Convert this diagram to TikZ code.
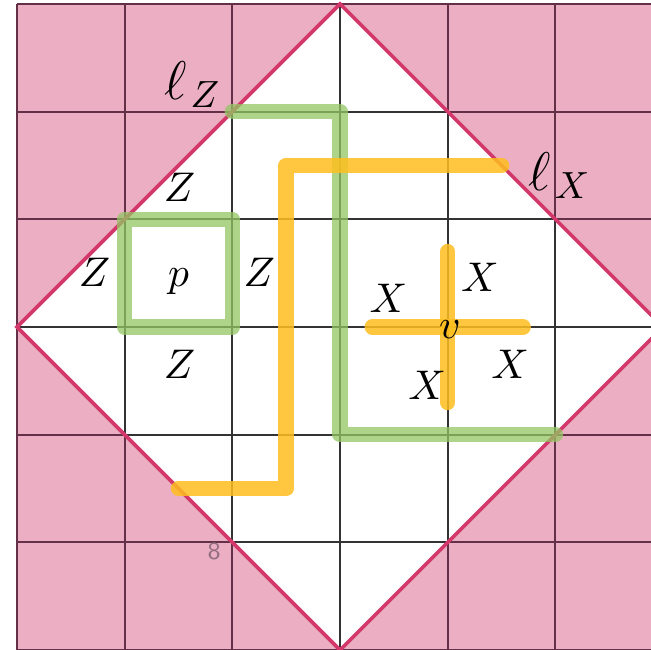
\documentclass[tikz,border=0pt]{standalone}
\usepackage{tikz}
\definecolor{outside}{RGB}{235,174,195}
\definecolor{rim}{RGB}{210,56,106}
\definecolor{gridplum}{RGB}{100,48,72}
\definecolor{zgreen}{RGB}{147,198,99}
\definecolor{xyellow}{RGB}{254,190,30}

\tikzset{
  zop/.style={draw=zgreen, line width=4.1pt, line cap=round, line join=round, draw opacity=0.75},
  xop/.style={draw=xyellow, line width=4.1pt, line cap=round, line join=round, draw opacity=0.85},
  lbl/.style={font=\fontsize{11}{13}\selectfont, inner sep=0pt},
  opname/.style={font=\fontsize{14.5}{16}\selectfont, inner sep=0pt},
}

\begin{document}
\begin{tikzpicture}
\useasboundingbox (-0.158,0.009) rectangle (5.888,6.037);
\clip (-0.158,0.009) rectangle (5.888,6.037);
\fill[white] (-0.158,0.009) rectangle (5.888,6.037);
% region outside the diamond
\fill[outside, even odd rule] (0,0) rectangle (6,6) (3,6) -- (0,3) -- (3,0) -- (6,3) -- cycle;
\draw[gridplum, line width=0.55pt] (0,0) grid (6,6);
\begin{scope}
\clip (3,6) -- (0,3) -- (3,0) -- (6,3) -- cycle;
\draw[black!80, line width=0.55pt] (0,0) grid (6,6);
\end{scope}
\draw[rim, line width=0.95pt, line join=miter] (3,6) -- (0,3) -- (3,0) -- (6,3) -- cycle;
\node[font=\sffamily\fontsize{6.5}{7}\selectfont, text=gridplum!70] (cellno) at (1.83,0.92) {8};

% logical operators
\draw[zop] (2,5) -- (3,5) -- (3,2) -- (5,2);
\draw[xop] (1.5,1.5) -- (2.5,1.5) -- (2.5,4.5) -- (4.5,4.5);
\node[opname] (lz) at (1.63,5.25) {$\ell_{\mkern2mu Z}$};
\node[opname] (lx) at (5.04,4.41) {$\ell_{\mkern2mu X}$};

% plaquette
\draw[zop] (1,3) rectangle (2,4);
\node[lbl] (p) at (1.5,3.42) {$p$};
\node[lbl] (zN) at (1.51,4.30) {$Z$};
\node[lbl] (zS) at (1.51,2.65) {$Z$};
\node[lbl] (zW) at (0.72,3.51) {$Z$};
\node[lbl] (zE) at (2.25,3.51) {$Z$};

% vertex
\coordinate (vc) at (4,3);
\draw[xop] ([xshift=-0.7cm]vc) -- ([xshift=0.7cm]vc);
\draw[xop] ([yshift=-0.7cm]vc) -- ([yshift=0.7cm]vc);
\node[lbl] (v) at (4.02,2.98) {$v$};
\node[lbl] (xNW) at (3.45,3.27) {$X$};
\node[lbl] (xNE) at (4.30,3.46) {$X$};
\node[lbl] (xSE) at (4.58,2.65) {$X$};
\node[lbl] (xSW) at (3.81,2.46) {$X$};
\end{tikzpicture}
\end{document}
